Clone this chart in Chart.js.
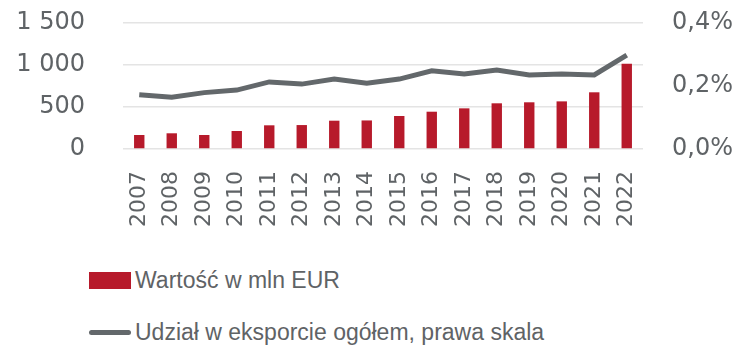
<!DOCTYPE html>
<html>
<head>
<meta charset="utf-8">
<script src="https://cdn.jsdelivr.net/npm/chart.js@4/dist/chart.umd.min.js"></script>
<style>
  body { margin: 0; background: #fff; }
  #wrap { position: relative; width: 740px; height: 347px; }
  #box { position: absolute; left: 0; top: 0; width: 740px; height: 250px; }
  .leg { position: absolute; left: 89px; font-family: "Liberation Sans", Arial, sans-serif; font-size: 23px; color: #5f6366; white-space: nowrap; }
  .leg span.sw { display: inline-block; vertical-align: middle; margin-right: 4px; }
  .leg span.tx { vertical-align: middle; }
</style>
</head>
<body>
<div id="wrap">
  <div id="box"><canvas id="mycanvas" width="740" height="250"></canvas></div>
  <div id="legend"></div>
</div>
<script>
var years = ["2007","2008","2009","2010","2011","2012","2013","2014","2015","2016","2017","2018","2019","2020","2021","2022"];
// value in mln EUR (left scale)
var wartosc = [167, 187, 167, 214, 282, 285, 337, 340, 393, 444, 484, 544, 556, 567, 675, 1015];
// share of total exports in % (right scale)
var udzial = [0.172, 0.164, 0.179, 0.187, 0.213, 0.206, 0.222, 0.209, 0.222, 0.248, 0.238, 0.251, 0.235, 0.238, 0.235, 0.298];
var leftTicks = [0, 500, 1000, 1500];
var rightTicks = [0, 0.2, 0.4];

var labelBar = "Wartość w mln EUR";
var labelLine = "Udział w eksporcie ogółem, prawa skala";

var barColor = "#b71a2b";
var lineColor = "#63686b";
var textColor = "#5f6366";

var chartdata = {
  labels: years,
  datasets: [
    {
      type: 'line',
      label: labelLine,
      data: udzial,
      yAxisID: 'y1',
      borderColor: lineColor,
      backgroundColor: lineColor,
      borderWidth: 5,
      pointRadius: 0,
      tension: 0,
      order: 0
    },
    {
      type: 'bar',
      label: labelBar,
      data: wartosc,
      yAxisID: 'y',
      backgroundColor: barColor,
      barPercentage: 0.32,
      categoryPercentage: 1.0,
      order: 1
    }
  ]
};

// y axes: fixed width, no extra top/bottom room for the tick labels
function fixY(w) {
  return function(axis) {
    axis.width = w;
    axis.paddingTop = 0;
    axis.paddingBottom = 0;
  };
}

var ctx = document.getElementById("mycanvas");

var myChart = new Chart(ctx, {
  data: chartdata,
  options: {
    responsive: false,
    animation: false,
    layout: { padding: { top: 23, bottom: 0, left: 0, right: 0 } },
    scales: {
      x: {
        grid: { display: false, drawTicks: false },
        border: { display: false },
        ticks: {
          color: textColor,
          font: { family: "DejaVu Sans", size: 22 },
          minRotation: 90,
          maxRotation: 90,
          padding: 22,
          autoSkip: false
        },
        afterFit: function(axis) { axis.height = 250 - 149; }
      },
      y: {
        position: 'left',
        min: leftTicks[0],
        max: leftTicks[leftTicks.length - 1],
        afterBuildTicks: function(axis) {
          axis.ticks = leftTicks.map(function(v) { return { value: v }; });
        },
        grid: { color: "#e4e4e4", lineWidth: 1.5, drawTicks: false },
        border: { display: false },
        ticks: {
          color: textColor,
          font: { family: "DejaVu Sans", size: 24 },
          padding: 38,
          callback: function(v) {
            return String(v).replace(/\B(?=(\d{3})+(?!\d))/g, " ");
          }
        },
        afterFit: fixY(123)
      },
      y1: {
        position: 'right',
        min: rightTicks[0],
        max: rightTicks[rightTicks.length - 1],
        afterBuildTicks: function(axis) {
          axis.ticks = rightTicks.map(function(v) { return { value: v }; });
        },
        grid: { display: false, drawTicks: false },
        border: { display: false },
        ticks: {
          color: textColor,
          font: { family: "DejaVu Sans", size: 24 },
          padding: 29,
          callback: function(v) {
            return v.toFixed(1).replace(".", ",") + "%";
          }
        },
        afterFit: fixY(97)
      }
    },
    plugins: {
      legend: { display: false },
      tooltip: { enabled: false }
    }
  }
});

// legend under the chart, one row per series
var legend = document.getElementById("legend");
var rows = [
  { text: labelBar, top: 266, sw: '<span class="sw" style="width:42px;height:17px;background:' + barColor + '"></span>' },
  { text: labelLine, top: 318, sw: '<span class="sw" style="width:42px;height:5px;border-radius:3px;background:' + lineColor + '"></span>' }
];
rows.forEach(function(r) {
  var d = document.createElement("div");
  d.className = "leg";
  d.style.top = r.top + "px";
  d.innerHTML = r.sw + '<span class="tx">' + r.text + '</span>';
  legend.appendChild(d);
});
</script>
</body>
</html>
